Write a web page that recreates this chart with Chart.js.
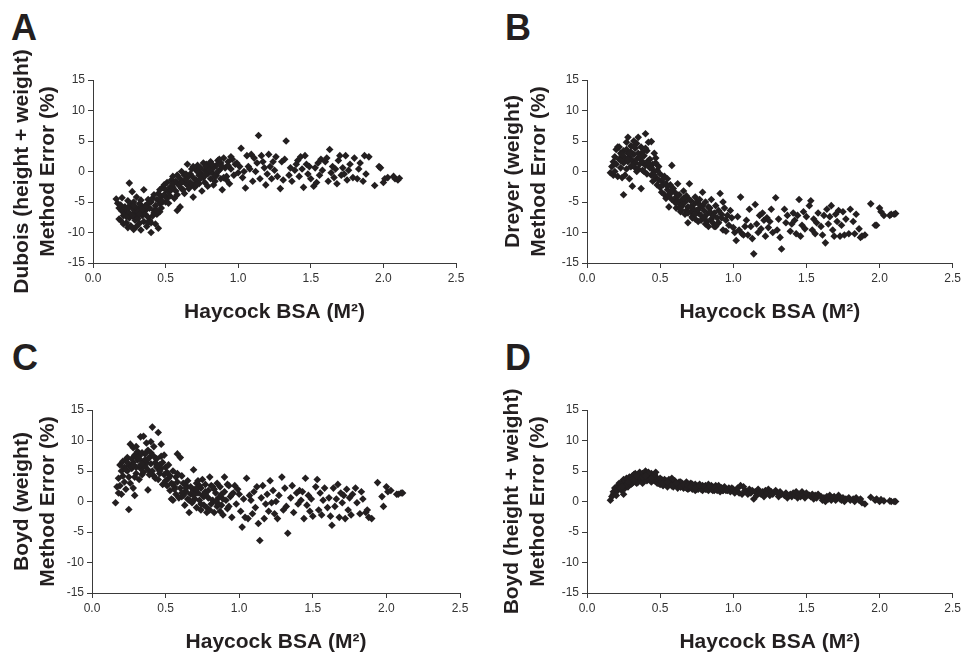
<!DOCTYPE html>
<html>
<head>
<meta charset="utf-8">
<script src="https://cdn.jsdelivr.net/npm/chart.js@4.4.1/dist/chart.umd.min.js"></script>
<style>
  html, body { margin: 0; padding: 0; background: #fff; overflow: hidden; }
  body { width: 964px; height: 653px; position: relative; }
  .panel { position: absolute; }
  .letter {
    position: absolute;
    font-family: 'Liberation Sans', Arial, sans-serif;
    font-weight: bold;
    font-size: 36px;
    line-height: 36px;
    color: #231f20;
  }
</style>
</head>
<body>
<div class="letter" style="left:11px;top:10px">A</div>
<div class="letter" style="left:505px;top:10px">B</div>
<div class="letter" style="left:12px;top:340px">C</div>
<div class="letter" style="left:505px;top:340px">D</div>

<div class="panel" style="left:0;top:0;width:480px;height:330px"><canvas id="chartA"></canvas></div>
<div class="panel" style="left:480px;top:0;width:484px;height:330px"><canvas id="chartB"></canvas></div>
<div class="panel" style="left:0;top:330px;width:480px;height:330px"><canvas id="chartC"></canvas></div>
<div class="panel" style="left:480px;top:330px;width:484px;height:330px"><canvas id="chartD"></canvas></div>

<script>
// Haycock BSA (m2) of each child, shared by all four panels
const bsa = [
  0.16, 0.17, 0.18, 0.18, 0.19, 0.19, 0.20, 0.20, 0.21, 0.21,
  0.22, 0.22, 0.23, 0.23, 0.24, 0.24, 0.25, 0.25, 0.25, 0.26,
  0.26, 0.27, 0.27, 0.28, 0.28, 0.28, 0.29, 0.29, 0.30, 0.30,
  0.30, 0.31, 0.31, 0.32, 0.32, 0.33, 0.33, 0.33, 0.34, 0.34,
  0.35, 0.35, 0.35, 0.36, 0.36, 0.37, 0.37, 0.38, 0.38, 0.38,
  0.39, 0.39, 0.40, 0.40, 0.41, 0.41, 0.42, 0.42, 0.43, 0.43,
  0.44, 0.44, 0.45, 0.45, 0.46, 0.46, 0.47, 0.47, 0.48, 0.48,
  0.49, 0.49, 0.50, 0.50, 0.51, 0.51, 0.52, 0.53, 0.53, 0.54,
  0.54, 0.55, 0.55, 0.56, 0.57, 0.57, 0.58, 0.58, 0.59, 0.60,
  0.60, 0.61, 0.61, 0.62, 0.63, 0.63, 0.64, 0.65, 0.65, 0.66,
  0.67, 0.67, 0.68, 0.69, 0.69, 0.70, 0.71, 0.71, 0.72, 0.73,
  0.73, 0.74, 0.74, 0.75, 0.76, 0.76, 0.77, 0.77, 0.78, 0.79,
  0.79, 0.80, 0.81, 0.81, 0.82, 0.83, 0.84, 0.85, 0.85, 0.86,
  0.87, 0.88, 0.88, 0.89, 0.90, 0.91, 0.92, 0.93, 0.94, 0.95,
  0.96, 0.97, 0.98, 1.00, 1.01, 1.02, 1.03, 1.05, 1.06, 1.08,
  1.09, 1.10, 1.11, 1.12, 1.13, 1.14, 1.15, 1.16, 1.17, 1.18,
  1.19, 1.20, 1.21, 1.22, 1.23, 1.24, 1.25, 1.26, 1.27, 1.29,
  1.30, 1.31, 1.32, 1.33, 1.35, 1.36, 1.37, 1.39, 1.40, 1.41,
  1.42, 1.43, 1.44, 1.45, 1.46, 1.47, 1.48, 1.49, 1.50, 1.52,
  1.53, 1.54, 1.55, 1.56, 1.57, 1.58, 1.60, 1.61, 1.62, 1.63,
  1.64, 1.65, 1.66, 1.67, 1.68, 1.69, 1.70, 1.71, 1.72, 1.73,
  1.74, 1.75, 1.76, 1.77, 1.79, 1.80, 1.82, 1.83, 1.84, 1.86,
  1.87, 1.88, 1.90, 1.94, 1.97, 1.98, 2.00, 2.01, 2.03, 2.07,
  2.08, 2.10, 2.11, 0.36, 0.31, 0.27, 0.42, 0.75, 0.70, 0.64,
  0.23, 0.29, 0.34, 0.38, 0.46, 0.52, 0.56, 0.62, 0.68, 0.72,
  0.78, 0.83, 0.86, 0.90, 0.93, 0.99, 1.04, 1.07, 0.24, 0.32,
  0.55, 0.58, 0.61, 0.64, 0.66, 0.69, 0.71, 0.74, 0.77, 0.80,
  0.82, 0.84, 0.87, 0.89, 0.92, 0.95, 0.47, 0.44, 0.40, 0.28
];

// method error (%) vs Haycock, one array per panel
const duboisErr = [
  -4.5, -5.2, -6.0, -7.8, -5.5, -8.0, -6.5, -4.3, -7.2, -8.6,
  -5.8, -7.0, -6.2, -8.4, -4.8, -9.2, -1.9, -6.8, -7.6, -5.4,
  -8.9, -6.0, -3.3, -7.4, -9.5, -5.0, -6.6, -8.0, -4.2, -7.1,
  -9.0, -6.1, -7.7, -5.3, -8.5, -6.8, -4.7, -9.6, -7.2, -5.8,
  -6.4, -8.2, -3.0, -7.0, -5.6, -9.0, -6.2, -4.6, -7.5, -5.2,
  -8.0, -6.0, -10.0, -5.0, -7.3, -4.4, -6.4, -3.8, -8.6, -5.6,
  -4.6, -7.0, -3.6, -9.3, -5.2, -3.0, -6.0, -4.2, -2.6, -5.0,
  -3.8, -2.2, -5.0, -3.0, -4.4, -1.8, -3.4, -2.6, -4.0, -1.4,
  -3.0, -0.8, -2.6, -4.4, -1.6, -3.2, -6.4, -0.6, -2.2, -5.8,
  -1.2, -2.8, 0.0, -1.6, -3.6, -0.6, -2.0, 1.2, -1.0, -2.4,
  -0.4, -1.8, 0.4, -4.2, -1.0, -2.6, 0.2, -1.4, 1.0, -0.6,
  -2.0, 0.6, -0.2, -3.2, 1.4, -1.0, 0.2, -1.8, 1.2, -0.4,
  -2.4, 0.8, -1.2, 1.6, -0.2, 0.6, -1.6, 1.0, -0.6, 1.8,
  0.2, -1.2, 1.4, -3.0, 2.2, 0.6, -0.8, 1.6, -2.0, 0.4,
  2.0, -0.6, 1.2, -0.2, 0.8, 3.8, -1.0, -2.7, 2.6, 0.4,
  2.8, -1.6, 2.2, 0.0, 1.4, 5.9, -1.2, 2.6, 1.6, 0.6,
  -2.2, -0.4, 2.8, 0.8, -1.2, 1.6, 0.2, 2.4, -0.8, -2.8,
  1.6, -1.4, 2.0, 5.0, -0.6, 0.6, -1.6, 0.2, 1.2, 1.8,
  -0.8, 2.4, 0.4, -2.6, 2.6, 1.2, -0.4, 0.8, -1.2, -2.4,
  0.6, -1.8, 1.4, -0.6, 2.0, 0.2, 1.6, 2.2, -1.6, 3.6,
  -0.2, 0.8, -1.0, 0.4, -2.0, 1.8, 2.6, -0.6, 0.6, -0.4,
  2.6, -1.4, 0.2, 1.2, -1.0, 2.2, -1.2, 0.4, 1.4, -1.6,
  2.6, -0.4, 2.4, -2.3, 0.8, 0.6, -1.8, -1.2, -1.0, -0.8,
  -1.2, -1.4, -1.1, -5.8, -6.6, -7.2, -6.8, -0.8, -2.0, -1.4,
  -7.4, -5.8, -6.2, -8.4, -6.6, -5.2, -1.8, -3.0, -2.2, 0.0,
  0.8, -2.2, 0.0, -1.0, 1.0, 1.4, 0.0, 0.8, -6.0, -7.0,
  -2.0, -3.8, -1.8, -0.4, -2.8, 0.8, -2.2, -1.2, -0.6, 0.2,
  1.2, -0.8, 2.0, 0.8, -1.4, 2.4, -4.8, -6.4, -8.4, -5.6
];

const dreyerErr = [
  -0.2, 0.8, 1.6, -0.6, 2.4, 0.0, 3.6, 1.2, 4.0, -0.8,
  2.0, 4.0, 0.6, 3.0, -1.0, 2.6, -3.8, 1.4, 3.4, -0.6,
  2.2, 4.8, 0.4, 5.6, 1.6, 3.0, -1.2, 2.4, 4.2, 0.8,
  3.2, -2.4, 1.8, 5.0, 2.8, 0.6, 3.8, 1.4, 4.6, 2.0,
  0.4, 3.0, 5.6, 1.2, 2.2, -2.8, 4.0, 0.2, 3.2, 1.6,
  2.6, 0.0, 6.2, 1.0, 3.4, -0.4, 1.8, 4.8, 0.6, 2.0,
  -0.6, 4.9, 1.2, -1.6, 0.0, 3.0, -1.0, 1.4, -2.2, 0.2,
  -1.4, 0.8, -2.6, -0.4, -3.4, -1.6, -2.2, -0.8, -3.8, -2.0,
  -4.4, -1.2, -3.0, -5.8, -2.2, -3.6, 1.0, -4.6, -2.8, -5.0,
  -3.4, -6.0, -4.2, -2.0, -5.2, -3.8, -6.6, -4.6, -5.6, -3.2,
  -5.0, -7.0, -4.0, -8.4, -5.8, -2.0, -6.6, -4.8, -7.4, -5.4,
  -6.2, -4.2, -7.8, -5.0, -6.8, -8.2, -4.6, -6.0, -7.2, -5.6,
  -3.4, -6.4, -8.6, -5.0, -7.0, -9.0, -6.0, -7.8, -4.6, -8.4,
  -6.8, -9.0, -5.6, -7.6, -8.4, -3.6, -7.0, -9.6, -6.0, -8.0,
  -7.2, -8.8, -6.4, -9.2, -10.0, -11.3, -7.4, -4.2, -10.2, -9.0,
  -8.0, -10.4, -6.2, -9.0, -11.0, -13.5, -5.4, -8.6, -10.0, -7.2,
  -9.4, -6.8, -8.0, -10.6, -7.6, -9.2, -8.2, -6.2, -10.0, -4.3,
  -9.6, -7.8, -10.8, -12.7, -6.2, -8.4, -7.2, -9.8, -8.6, -6.8,
  -8.0, -10.2, -7.2, -4.6, -10.6, -8.8, -6.6, -9.4, -7.4, -5.6,
  -4.8, -9.6, -7.8, -10.2, -8.4, -6.8, -9.0, -10.4, -7.2, -11.7,
  -6.2, -8.6, -7.4, -5.6, -9.6, -10.6, -7.0, -8.2, -6.4, -10.6,
  -8.8, -6.6, -10.4, -7.8, -10.2, -6.2, -8.2, -10.2, -7.0, -9.4,
  -10.8, -10.6, -10.4, -5.3, -8.8, -8.8, -6.0, -6.6, -7.2, -7.2,
  -7.0, -7.0, -6.9, 2.4, 1.0, 3.6, 1.4, -6.4, -4.6, -5.8,
  1.8, 3.0, 0.0, 2.6, -0.6, -1.2, -4.0, -4.8, -6.4, -7.6,
  -8.0, -5.8, -7.2, -6.4, -5.0, -7.6, -9.6, -10.4, 2.8, 4.2,
  -2.4, -3.2, -5.2, -6.2, -4.4, -6.8, -5.8, -7.0, -5.4, -7.6,
  -8.2, -6.6, -9.0, -8.6, -7.6, -9.8, 2.2, 0.6, 3.8, 2.0
];

const boydWErr = [
  -0.2, 2.4, 1.4, 3.8, 6.0, 2.6, 5.0, 1.2, 6.6, 4.2,
  5.6, 3.2, 6.8, 2.0, 5.0, 7.2, -1.3, 4.0, 6.0, 9.4,
  3.0, 7.0, 5.4, 8.8, 2.2, 6.4, 7.6, 1.0, 5.6, 9.0,
  4.6, 6.8, 8.2, 3.6, 7.4, 5.4, 10.6, 6.0, 4.4, 8.0,
  6.6, 10.7, 4.8, 7.8, 5.8, 9.6, 6.4, 1.9, 8.4, 5.2,
  7.2, 4.4, 8.0, 6.2, 12.2, 5.0, 7.4, 4.2, 6.4, 3.8,
  5.6, 7.0, 11.3, 3.6, 6.0, 4.6, 9.4, 5.4, 2.8, 6.4,
  4.4, 7.6, 3.4, 5.6, 2.6, 4.8, 3.8, 1.8, 4.2, 0.4,
  3.0, 5.0, 0.2, 2.4, 4.0, 1.2, 7.8, 3.2, 0.6, 7.2,
  2.2, 4.2, 0.8, 3.0, 1.6, -0.6, 2.6, 0.4, 3.4, -1.8,
  1.2, 2.4, -0.2, 5.2, 1.8, 0.4, 3.0, -1.0, 1.4, 2.6,
  0.2, -1.4, 2.2, 3.6, 0.8, -0.6, 1.6, 2.8, -1.8, 0.6,
  1.8, 4.0, -0.4, 2.6, 0.2, -1.8, 1.4, 3.0, -0.8, 0.6,
  2.4, -0.6, 1.2, -2.2, 4.0, 0.2, -1.2, 2.6, 0.8, -2.6,
  1.4, 2.6, -0.4, 1.2, -1.6, -4.2, 0.4, 3.8, -2.8, 0.2,
  -2.0, 1.6, -1.0, 2.4, -3.6, -6.4, 0.6, 2.6, -2.8, -0.4,
  1.2, -1.6, 3.4, -0.2, 1.8, -2.0, 0.0, -2.8, 1.0, 4.0,
  -1.4, 2.2, -0.8, -5.2, 0.6, 2.6, -1.8, 1.4, -0.4, 1.8,
  0.2, 1.6, -2.8, 3.8, -0.6, 1.0, -1.6, 0.4, -2.4, 2.4,
  3.6, -1.4, 1.4, -2.2, 0.2, 2.2, -1.0, 0.6, -2.4, -3.9,
  2.2, -0.8, 0.4, 2.8, -2.6, 1.4, -0.2, 1.0, -2.8, 2.0,
  -1.4, 0.6, -2.2, 1.2, 2.2, -0.2, -2.0, 1.6, 0.4, -1.8,
  -1.4, -2.6, -2.8, 3.1, 0.8, -0.8, 2.4, 1.6, 1.8, 1.2,
  1.2, 1.4, 1.4, 6.8, 7.2, 5.8, 9.0, 1.0, 2.0, 1.6,
  5.2, 4.0, 6.2, 7.0, 5.0, 6.0, 2.0, 1.0, 0.0, 3.4,
  -1.0, 2.0, -0.4, 1.6, -0.8, 2.0, -2.6, 1.0, 6.4, 7.0,
  2.8, 4.6, 1.4, 2.2, 0.2, 1.0, 2.0, -0.4, 1.2, -1.4,
  2.4, 0.0, -1.6, 0.4, 2.8, 1.2, 7.4, 5.8, 9.8, 6.0
];

const boydHWErr = [
  0.2, 0.8, 1.2, 1.6, 1.4, 2.2, 2.0, 1.0, 2.6, 1.8,
  2.4, 3.0, 2.0, 2.8, 3.2, 1.8, 1.2, 2.6, 3.6, 2.2,
  3.4, 2.6, 3.8, 3.0, 2.4, 3.6, 4.0, 3.2, 2.8, 3.8,
  3.4, 4.2, 3.0, 3.8, 4.4, 3.2, 3.6, 4.6, 3.0, 4.0,
  3.6, 4.4, 3.2, 4.0, 4.8, 3.4, 4.2, 3.8, 4.6, 3.0,
  4.2, 3.6, 5.0, 3.8, 4.4, 3.4, 4.0, 4.8, 3.6, 4.2,
  3.2, 4.6, 3.8, 4.2, 3.4, 4.4, 3.6, 4.0, 3.0, 3.8,
  3.4, 3.0, 3.8, 2.8, 3.6, 3.2, 2.6, 3.6, 3.0, 3.4,
  2.8, 3.2, 2.4, 3.6, 2.8, 3.4, 2.6, 3.8, 2.4, 3.0,
  3.4, 2.6, 3.0, 2.2, 3.2, 2.8, 2.4, 3.0, 2.6, 2.2,
  2.8, 2.4, 3.2, 2.0, 2.6, 2.2, 3.0, 2.4, 2.0, 2.6,
  2.2, 2.8, 1.8, 2.4, 2.6, 2.0, 2.4, 2.8, 2.2, 1.8,
  2.6, 2.2, 2.0, 2.6, 2.4, 1.8, 2.2, 2.6, 2.0, 2.4,
  1.8, 2.2, 2.6, 2.0, 2.4, 1.6, 2.2, 1.8, 2.4, 2.0,
  1.8, 2.2, 1.6, 2.0, 1.4, 1.8, 2.2, 2.6, 1.2, 1.8,
  1.6, 1.2, 2.0, 1.4, 1.8, 0.4, 1.6, 1.0, 2.0, 1.4,
  1.2, 1.6, 0.8, 1.8, 1.4, 2.0, 1.0, 1.6, 1.2, 1.8,
  1.4, 0.8, 1.6, 1.2, 1.0, 1.4, 0.6, 1.2, 0.8, 1.4,
  1.0, 1.6, 0.6, 1.2, 0.8, 1.6, 1.0, 0.6, 1.4, 1.0,
  0.8, 1.2, 0.4, 1.0, 0.6, 1.2, 0.8, 0.2, 0.6, 0.0,
  0.8, 0.4, 1.0, 0.2, 0.6, 0.8, 0.2, 0.6, 1.0, 0.4,
  0.2, 0.6, 0.0, 0.4, 0.6, 0.2, 0.4, 0.0, 0.6, 0.2,
  0.4, -0.2, -0.4, 0.7, 0.2, 0.4, 0.0, 0.3, 0.1, 0.1,
  0.0, 0.0, 0.0, 4.0, 3.6, 2.8, 4.6, 2.0, 2.8, 3.2,
  2.2, 3.2, 4.2, 4.0, 4.4, 3.0, 3.0, 2.8, 2.2, 2.8,
  2.0, 2.8, 1.8, 2.6, 1.8, 2.2, 1.4, 2.4, 2.4, 3.4,
  3.2, 2.6, 3.0, 2.4, 2.8, 2.6, 2.4, 2.2, 2.6, 2.4,
  2.0, 2.4, 2.2, 1.8, 2.2, 1.8, 4.8, 3.8, 4.2, 3.2
];

const xTicks = [0, 0.5, 1.0, 1.5, 2.0, 2.5];
const yTicks = [-15, -10, -5, 0, 5, 10, 15];
const xTitle = 'Haycock BSA (M\u00B2)';

const ink = '#231f20';
const fontFam = "'Liberation Sans', Arial, sans-serif";

function makePanel(id, errors, yTitle, axisW, titlePad, rightPad) {
  const pts = bsa.map((x, i) => ({ x: x, y: errors[i] }));
  return new Chart(document.getElementById(id), {
    type: 'scatter',
    data: {
      datasets: [{
        data: pts,
        pointStyle: 'rectRot',
        pointRadius: 3.8,
        pointBorderWidth: 0,
        backgroundColor: ink,
        borderColor: ink
      }]
    },
    options: {
      responsive: true,
      maintainAspectRatio: false,
      animation: false,
      events: [],
      layout: { padding: { left: 0, top: 80, right: rightPad, bottom: 0 } },
      plugins: { legend: { display: false }, tooltip: { enabled: false } },
      scales: {
        x: {
          type: 'linear',
          min: xTicks[0],
          max: xTicks[xTicks.length - 1],
          afterBuildTicks: s => { s.ticks = xTicks.map(v => ({ value: v })); },
          afterFit: s => { s.height = 67; },
          border: { display: true, color: '#3a3a3a', width: 1 },
          grid: { drawOnChartArea: false, drawTicks: true, tickLength: 5, color: '#3a3a3a' },
          ticks: {
            color: '#333', padding: 3,
            font: { family: fontFam, size: 12 },
            callback: v => Number(v).toFixed(1)
          },
          title: {
            display: true, text: xTitle, color: ink,
            font: { family: fontFam, size: 21, weight: 'bold', lineHeight: 1.2 },
            padding: { top: 0, bottom: 5 }
          }
        },
        y: {
          type: 'linear',
          min: yTicks[0],
          max: yTicks[yTicks.length - 1],
          afterBuildTicks: s => { s.ticks = yTicks.map(v => ({ value: v })); },
          afterFit: s => { s.width = axisW; },
          border: { display: true, color: '#3a3a3a', width: 1 },
          grid: { drawOnChartArea: false, drawTicks: true, tickLength: 5, color: '#3a3a3a' },
          ticks: {
            color: '#333', padding: 3,
            font: { family: fontFam, size: 12 }
          },
          title: {
            display: true, text: yTitle, color: ink,
            font: { family: fontFam, size: 21, weight: 'bold', lineHeight: 1.2 },
            padding: { top: titlePad, bottom: 0 }
          }
        }
      }
    }
  });
}

makePanel('chartA', duboisErr, ['Dubois (height + weight)', 'Method Error (%)'], 93, 10, 24);
makePanel('chartB', dreyerErr, ['Dreyer (weight)', 'Method Error (%)'], 107, 21, 9);
makePanel('chartC', boydWErr, ['Boyd (weight)', 'Method Error (%)'], 92, 10, 20);
makePanel('chartD', boydHWErr, ['Boyd (height + weight)', 'Method Error (%)'], 107, 20, 9);
</script>
</body>
</html>
